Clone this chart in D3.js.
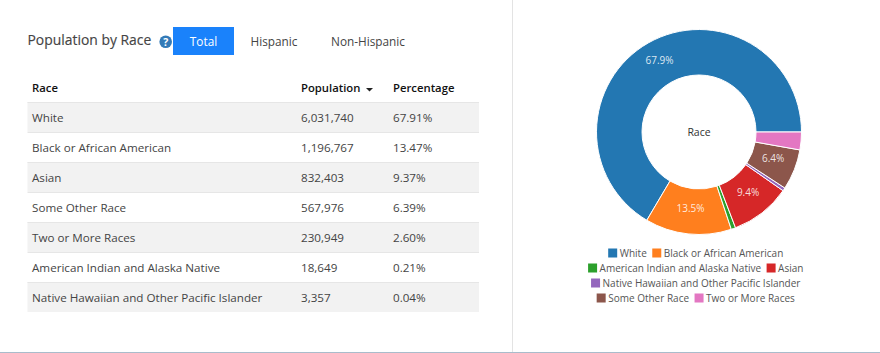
<!DOCTYPE html>
<html>
<head>
<meta charset="utf-8">
<script src="https://d3js.org/d3.v7.min.js"></script>
<style>
  html, body { margin: 0; padding: 0; background: #fff; }
  text { font-family: "Open Sans", sans-serif; }
</style>
</head>
<body>
<div id="chart"></div>
<script>
// table rows, sorted by population like the page
const races = ["White", "Black or African American", "Asian", "Some Other Race", "Two or More Races", "American Indian and Alaska Native", "Native Hawaiian and Other Pacific Islander"];
const population = [6031740, 1196767, 832403, 567976, 230949, 18649, 3357];
const percentage = [67.91, 13.47, 9.37, 6.39, 2.60, 0.21, 0.04];
const headers = ["Race", "Population", "Percentage"];
const tabs = ["Total", "Hispanic", "Non-Hispanic"];

// donut uses a different order than the table
const pieOrder = ["White", "Black or African American", "American Indian and Alaska Native", "Asian", "Native Hawaiian and Other Pacific Islander", "Some Other Race", "Two or More Races"];
const pieShare = [66.5, 13.6, 0.7, 9.5, 0.5, 6.4, 2.8];
const pieLabels = ["67.9%", "13.5%", "", "9.4%", "", "6.4%", ""];
const pieColors = ["#2377b2", "#ff7f1e", "#2ca02c", "#d62728", "#9467bd", "#8c564b", "#e377c2"];
const legendRows = [
    ["White", "Black or African American"],
    ["American Indian and Alaska Native", "Asian"],
    ["Native Hawaiian and Other Pacific Islander"],
    ["Some Other Race", "Two or More Races"]
];

const width = 880, height = 353;
const svg = d3.select("#chart").append("svg")
    .attr("width", width)
    .attr("height", height)
    .style("display", "block");

// panel borders
svg.append("line").attr("x1", 512.5).attr("x2", 512.5).attr("y1", 0).attr("y2", 352).attr("stroke", "#e3e3e3");
svg.append("line").attr("x1", 0).attr("x2", width).attr("y1", 352.5).attr("y2", 352.5).attr("stroke", "#a9bccb");

// title + help icon
svg.append("text").attr("x", 27.5).attr("y", 45)
    .style("font-size", "13.9px").style("fill", "#444").style("stroke", "#444").style("stroke-width", 0.15).text("Population by Race");
svg.append("circle").attr("cx", 165.7).attr("cy", 41.7).attr("r", 6.3).attr("fill", "#337ab7");
svg.append("text").attr("x", 165.7).attr("y", 45.6).attr("text-anchor", "middle")
    .style("font-size", "10.5px").style("font-weight", "bold").style("fill", "#fff").text("?");

// tabs
svg.append("rect").attr("x", 173).attr("y", 27).attr("width", 61).attr("height", 28).attr("fill", "#1a82fb");
const tabX = [203.5, 274, 368];
svg.selectAll(".tab").data(tabs).enter().append("text")
    .attr("class", "tab")
    .attr("x", (d, i) => tabX[i])
    .attr("y", 45.5)
    .attr("text-anchor", "middle")
    .style("font-size", "11.8px")
    .style("fill", (d, i) => i === 0 ? "#fff" : "#444")
    .text(d => d);

// table
const tableLeft = 27.5, tableRight = 479;
const colX = [32, 301, 393];
const rowY = d3.scaleBand().domain(races).range([102, 312]);

svg.selectAll(".head").data(headers).enter().append("text")
    .attr("class", "head")
    .attr("x", (d, i) => colX[i])
    .attr("y", 92)
    .style("font-size", "11.3px")
    .style("font-weight", 600)
    .style("fill", "#111")
    .text(d => d);
// sort caret
svg.append("path").attr("d", d3.line()([[366, 88], [373, 88], [369.5, 91.5]])).attr("fill", "#222");

const rows = svg.selectAll(".row").data(races).enter().append("g")
    .attr("class", "row")
    .attr("transform", d => `translate(0, ${rowY(d)})`);
rows.append("rect")
    .attr("x", tableLeft)
    .attr("width", tableRight - tableLeft)
    .attr("height", rowY.bandwidth())
    .attr("fill", (d, i) => i % 2 === 0 ? "#f2f2f2" : "#fff");
rows.append("line")
    .attr("x1", tableLeft).attr("x2", tableRight)
    .attr("y1", 0.5).attr("y2", 0.5)
    .attr("stroke", "#e6e6e6");
const cellText = (x, fn) => rows.append("text")
    .attr("x", x)
    .attr("y", 20)
    .style("font-size", "11.65px")
    .style("fill", "#444")
    .text(fn);
cellText(colX[0], d => d);
cellText(colX[1], (d, i) => d3.format(",")(population[i]));
cellText(colX[2], (d, i) => percentage[i].toFixed(2) + "%");

// donut
const color = d3.scaleOrdinal().domain(pieOrder).range(pieColors);
const outer = 102.5, inner = 57;
const pie = d3.pie()
    .sort(null)
    .value(d => pieShare[pieOrder.indexOf(d)])
    .startAngle(Math.PI / 2)
    .endAngle(Math.PI / 2 - 2 * Math.PI);
const arc = d3.arc().innerRadius(inner).outerRadius(outer);
const slices = pie(pieOrder);

const donut = svg.append("g").attr("transform", "translate(699, 132)");
donut.selectAll(".slice").data(slices).enter().append("path")
    .attr("class", "slice")
    .attr("d", arc)
    .attr("fill", d => color(d.data))
    .attr("stroke", "#fff")
    .attr("stroke-width", 1);
donut.selectAll(".pct").data(slices.filter(d => pieLabels[d.index])).enter().append("text")
    .attr("class", "pct")
    .attr("transform", d => `translate(${arc.centroid(d)})`)
    .attr("text-anchor", "middle")
    .attr("dy", "0.1em")
    .style("font-size", "10px")
    .style("fill", "#fff")
    .style("fill-opacity", 0.85)
    .text(d => pieLabels[d.index]);
donut.append("text")
    .attr("text-anchor", "middle").attr("dy", "0.35em")
    .style("font-size", "10.5px").style("fill", "#333").text("Race");

// legend, centered line by line
const legendY = d3.scaleBand().domain(d3.range(legendRows.length)).range([246, 306]);
legendRows.forEach((names, r) => {
    const g = svg.append("g").attr("transform", `translate(0, ${legendY(r)})`);
    const items = names.map(name => {
        const t = g.append("text").attr("y", 11).style("font-size", "10px").style("fill", "#555").text(name);
        return { name, t, w: t.node().getComputedTextLength() };
    });
    const lineW = d3.sum(items, d => d.w + 12) + (items.length - 1) * 5;
    let x = 696 - lineW / 2;
    items.forEach(d => {
        g.append("rect").attr("x", x).attr("y", 2.5).attr("width", 9).attr("height", 9).attr("fill", color(d.name));
        d.t.attr("x", x + 11.5);
        x += d.w + 12 + 5;
    });
});
</script>
</body>
</html>
